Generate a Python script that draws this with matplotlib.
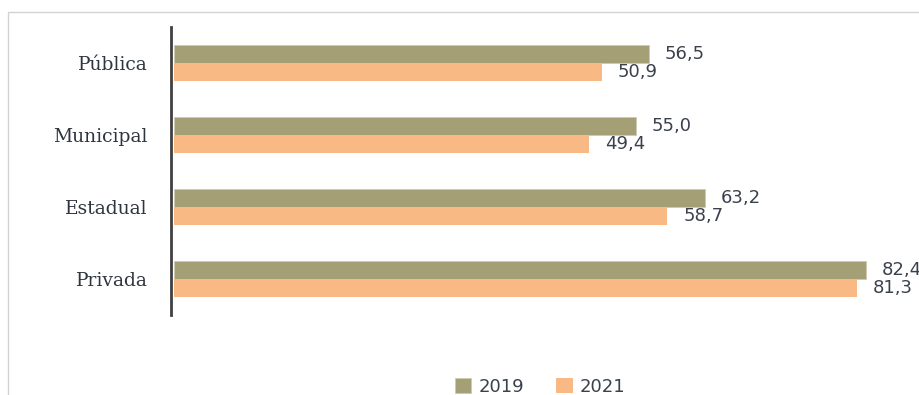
import matplotlib
matplotlib.use("Agg")
import matplotlib.pyplot as plt
import matplotlib.patches as mpatches
import numpy as np

categories = ["Pública", "Municipal", "Estadual", "Privada"]
years = ["2019", "2021"]
vals_2019 = [56.5, 55.0, 63.2, 82.4]
vals_2021 = [50.9, 49.4, 58.7, 81.3]

c2019 = "#a59f76"
c2021 = "#f9b985"
txt = "#3a414c"

W, H = 920, 395
fig = plt.figure(figsize=(W / 100, H / 100), dpi=100)
ax = fig.add_axes([174 / W, 1 - 315 / H, 85 * 8.4 / W, 288 / H])

y = np.arange(len(categories))
bh = 0.245
b1 = ax.barh(y - bh / 2, vals_2019, height=bh, color=c2019, edgecolor="#cfcab0", linewidth=0.6, label=years[0])
b2 = ax.barh(y + bh / 2, vals_2021, height=bh, color=c2021, label=years[1])

for bars, vals in ((b1, vals_2019), (b2, vals_2021)):
    for rect, v in zip(bars, vals):
        ax.annotate(f"{v:.1f}".replace(".", ","),
                    (rect.get_width(), rect.get_y() + rect.get_height() / 2),
                    xytext=(16, 0), textcoords="offset pixels",
                    va="center", ha="left", fontsize=13, color=txt,
                    family="DejaVu Sans", annotation_clip=False)

ax.set_xlim(0, 85)
ax.set_ylim(len(categories) - 0.5, -0.5)
ax.xaxis.set_visible(False)
for s in ("top", "right", "bottom"):
    ax.spines[s].set_visible(False)
ax.spines["left"].set_linewidth(2)
ax.spines["left"].set_color("#404040")
ax.spines["left"].set_position(("outward", 2))

# tick labels after the spine move, which resets the ticks
ax.set_yticks(y)
ax.set_yticklabels(categories, family="DejaVu Serif", fontsize=13.5, color="#2f3540")
ax.tick_params(axis="y", length=0, pad=17)

# light frame around the chart area
fig.add_artist(mpatches.Rectangle((8 / W, -0.1), 1.2, 1 - 12 / H + 0.1,
                                  transform=fig.transFigure, fill=False,
                                  edgecolor="#d2d2d2", linewidth=1))

fig.legend(handles=[b1, b2], labels=years, loc="center",
           bbox_to_anchor=(540 / W, 1 - 387 / H), ncol=2, frameon=False,
           handlelength=0.9, handleheight=0.9, handletextpad=0.4,
           columnspacing=1.8, labelcolor=txt, prop={"family": "DejaVu Sans", "size": 13})

fig.savefig("out.png", dpi=100, facecolor="white")
